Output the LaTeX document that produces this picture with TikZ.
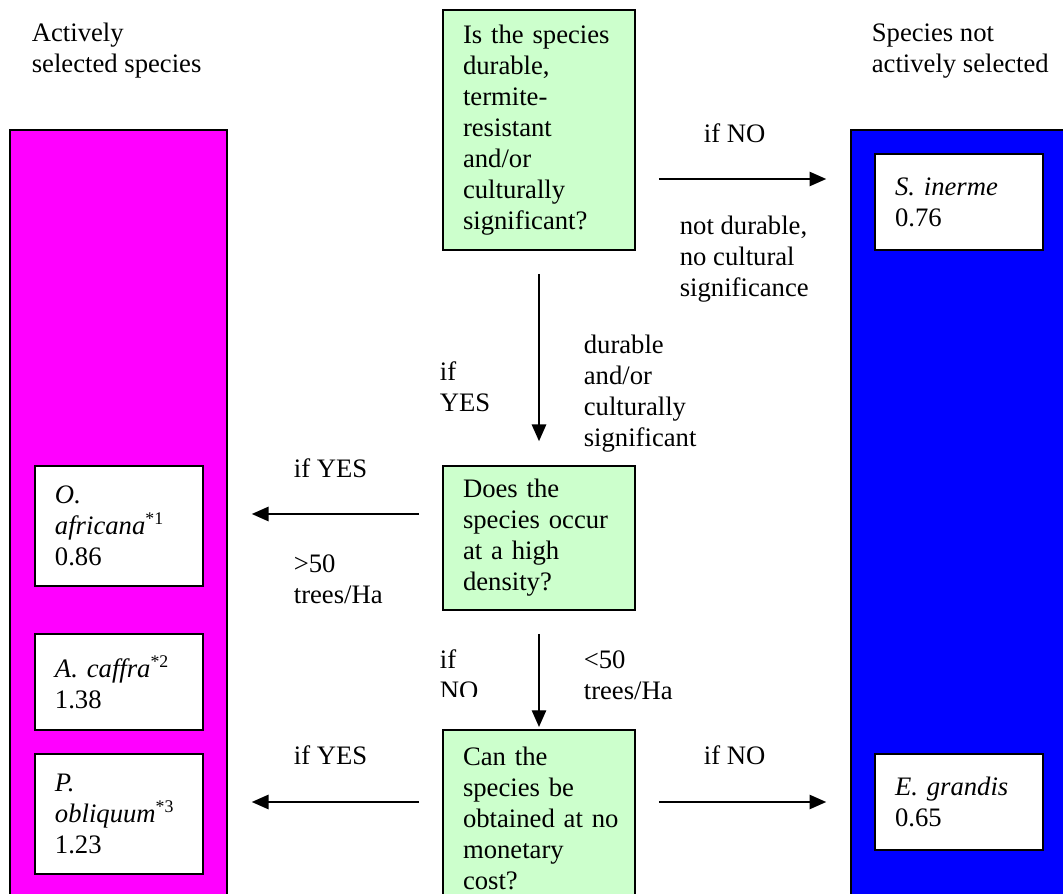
\documentclass[tikz,border=0pt]{standalone}
\usepackage{fontspec}
\setmainfont{Liberation Serif}
\usetikzlibrary{arrows.meta}
\definecolor{qgreen}{RGB}{204,255,204}
\definecolor{selpink}{RGB}{255,0,255}
\definecolor{notselblue}{RGB}{0,0,255}
\tikzset{every picture/.style={line width=0.75pt}}
\tikzset{every node/.append style={font=\fontsize{12}{13.95}\selectfont}}
\tikzset{
  question/.style={draw, fill=qgreen, text width=68.4pt, inner xsep=9pt, inner ysep=0pt, align=left},
  species/.style={draw, fill=white, text width=57.6pt, inner xsep=9pt, inner ysep=0pt, align=left},
  groupbar/.style={draw, minimum height=351pt, inner sep=0pt},
  flow/.style={-{Triangle[length=7.5pt,width=6.5pt]}, line width=0.6pt, shorten <=10.4pt, shorten >=10.8pt},
  note/.style={align=left, anchor=west, inner sep=0pt}
}

\begin{document}
\begin{tikzpicture}[x=0.45pt,y=0.45pt,yscale=-1,xscale=1]
%set diagram size 1063 x 894
\clip (0,0) rectangle (1063,894);

%Shape: Rectangle [selected]
\draw (118.5,520) node [groupbar, fill=selpink, minimum width=97.65pt] (sel) {};
%Shape: Rectangle [not selected]
\draw (963,520) node [groupbar, fill=notselblue, minimum width=100.8pt] (notsel) {};

%Shape: Rectangle [questions]
\draw (539,130) node [question, minimum height=108pt] (q1) {Is the species\\durable,\\termite-\\resistant\\and/or\\culturally\\significant?};
\draw (539,538) node [question, minimum height=64.8pt] (q2) {Does the\\species occur\\at a high\\density?};
\draw (539,818) node [question, minimum height=79.2pt] (q3) {Can the\\species be\\\mbox{obtained at no}\\monetary\\cost?};

%Shape: Rectangle [species]
\draw (119,526) node [species, minimum height=54pt] (oafr) {\textit{O.}\\\textit{africana}\textsuperscript{*1}\\0.86};
\draw (119,682) node [species, minimum height=43.2pt] (acaf) {\textit{A. caffra}\textsuperscript{*2}\\1.38};
\draw (119,814) node [species, minimum height=54pt] (pobl) {\textit{P.}\\\textit{obliquum}\textsuperscript{*3}\\1.23};
\draw (959,202) node [species, minimum height=43.2pt] (sinr) {\textit{S. inerme}\\0.76};
\draw (959,802) node [species, minimum height=43.2pt] (egra) {\textit{E. grandis}\\0.65};

%Straight Lines
\draw [flow] (q1.east |- 0,179) -- (notsel.west |- 0,179);
\draw [flow] (q1) -- (q2);
\draw [flow] (q2.west |- 0,514) -- (sel.east |- 0,514);
\draw [flow, shorten >=1pt] (q2) -- (q3);
\draw [flow] (q3.west |- 0,802) -- (sel.east |- 0,802);
\draw [flow] (q3.east |- 0,802) -- (notsel.west |- 0,802);

% Text Node
\draw (31,51) node [note] (seltitle) {Actively\\selected species};
% Text Node
\draw (871,51) node [note] (notseltitle) {Species not\\actively selected};
% Text Node
\draw (703,133) node [note] (noone) {if NO};
% Text Node
\draw (679,259) node [note] (notdur) {not durable,\\no cultural\\significance};
% Text Node
\draw (439,387) node [note] (yesone) {if\\YES};
% Text Node
\draw (583,394) node [note] (dur) {durable\\and/or\\culturally\\significant};
% Text Node
\draw (293,468) node [note] (yestwo) {if YES};
% Text Node
\draw (293,579) node [note] (high) {>50\\trees/Ha};
% Text Node
\begin{scope}
\clip (430,640) rectangle (530,697);
\draw (439,675) node [note] (notwo) {if\\NO};
\end{scope}
% Text Node
\draw (583,675) node [note] (low) {<50\\trees/Ha};
% Text Node
\draw (293,755) node [note] (yesthree) {if YES};
% Text Node
\draw (703,755) node [note] (nothree) {if NO};

\end{tikzpicture}
\end{document}
